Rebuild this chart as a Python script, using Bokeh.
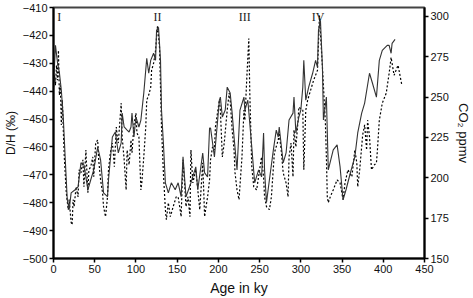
from bokeh.plotting import figure
from bokeh.models import Range1d, LinearAxis, FixedTicker
from bokeh.embed import file_html
from bokeh.resources import INLINE
from bokeh.core.properties import value

# CO2 record (solid line, right axis, ppmv)
co2_age = [0.0, 2.4, 4.8, 7.1, 9.5, 11.9, 14.3, 16.7, 19.0, 21.4, 26.2, 29.8, 33.3, 36.9, 41.7, 45.2, 48.8,
           53.6, 57.1, 60.7, 65.5, 66.7, 71.4, 75.0, 78.6, 82.1, 83.3, 85.7, 89.3, 91.7, 94.0, 95.2, 97.6,
           100.0, 103.6, 106.0, 109.5, 113.1, 115.5, 117.9, 121.4, 123.8, 125.0, 127.4, 129.8, 131.0, 133.3,
           135.7, 139.3, 142.9, 147.6, 151.2, 154.8, 157.1, 160.7, 166.7, 172.6, 175.0, 181.0, 183.3, 186.9,
           189.3, 190.5, 195.2, 201.2, 202.4, 204.8, 208.3, 210.7, 214.3, 216.7, 219.0, 222.6, 225.0, 226.2,
           231.0, 232.1, 235.7, 240.5, 244.0, 248.8, 252.4, 254.8, 256.0, 258.3, 261.9, 266.7, 270.2, 272.6,
           273.8, 278.6, 282.1, 285.7, 290.5, 291.7, 294.0, 297.6, 300.0, 302.4, 303.6, 306.0, 309.5, 314.3,
           317.9, 320.2, 321.4, 323.8, 326.2, 327.4, 331.0, 333.3, 339.3, 344.0, 347.6, 351.2, 354.8, 359.5,
           365.5, 369.0, 373.8, 377.4, 383.3, 386.9, 391.7, 395.2, 398.8, 404.8, 407.1, 409.5, 410.7, 414.3]
co2_ppmv = [257.4, 282.1, 271.6, 265.4, 254.3, 237.0, 211.1, 186.4, 180.2, 190.7, 192.6, 194.4, 209.3, 208.0,
            192.6, 198.8, 204.9, 219.1, 211.1, 190.7, 188.3, 198.8, 225.3, 228.4, 215.4, 221.6, 240.1, 231.5,
            229.6, 228.4, 231.5, 240.1, 225.3, 237.7, 231.5, 235.8, 252.5, 274.1, 264.8, 272.8, 277.2, 272.8,
            291.4, 293.2, 272.8, 242.0, 221.6, 196.9, 190.7, 196.9, 192.6, 196.9, 188.3, 213.0, 188.3, 196.9,
            206.8, 192.6, 215.4, 203.1, 200.6, 230.9, 230.9, 213.0, 248.1, 250.0, 237.7, 242.0, 256.2, 252.5,
            240.1, 225.3, 204.9, 229.6, 242.0, 250.0, 242.0, 248.1, 219.1, 196.9, 204.9, 200.6, 227.8, 204.9,
            184.6, 198.8, 217.3, 229.6, 225.3, 231.5, 209.3, 215.4, 235.8, 240.1, 250.0, 227.8, 237.7, 242.0,
            256.2, 272.8, 248.1, 256.2, 264.8, 272.8, 268.5, 291.4, 297.5, 268.5, 235.8, 250.0, 204.9, 217.3,
            220.4, 206.8, 186.4, 192.6, 201.9, 213.0, 227.8, 240.1, 246.3, 264.8, 258.6, 250.0, 272.8, 279.0,
            282.1, 282.1, 277.2, 283.3, 285.8]

# Deuterium record (dotted line, left axis, per mil)
dh_age = [0.0, 1.2, 2.4, 3.6, 4.8, 6.0, 7.1, 8.3, 9.5, 10.7, 11.9, 13.1, 15.5, 17.9, 19.0, 21.4, 22.6, 23.8,
          25.0, 27.4, 29.8, 31.0, 33.3, 35.7, 36.9, 39.3, 41.7, 42.9, 45.2, 47.6, 48.8, 51.2, 53.6, 54.8, 57.1,
          59.5, 60.7, 63.1, 65.5, 66.7, 69.0, 71.4, 72.6, 73.8, 76.2, 77.4, 78.6, 82.1, 83.3, 85.7, 88.1, 89.3,
          91.7, 94.0, 95.2, 97.6, 100.0, 101.2, 103.6, 106.0, 107.1, 109.5, 111.9, 113.1, 115.5, 117.9, 119.0,
          121.4, 123.8, 125.0, 126.2, 128.6, 131.0, 133.3, 135.7, 136.9, 139.3, 141.7, 145.2, 148.8, 151.2,
          153.6, 154.8, 157.1, 159.5, 160.7, 163.1, 165.5, 166.7, 169.0, 172.6, 177.4, 181.0, 183.3, 184.5,
          186.9, 189.3, 190.5, 192.9, 195.2, 196.4, 201.2, 202.4, 204.8, 207.1, 210.7, 213.1, 214.3, 216.7,
          219.0, 220.2, 222.6, 225.0, 228.6, 231.0, 232.1, 234.5, 236.9, 238.1, 240.5, 242.9, 246.4, 250.0,
          252.4, 254.8, 256.0, 258.3, 261.9, 264.3, 267.9, 272.6, 273.8, 276.2, 278.6, 282.1, 284.5, 285.7,
          288.1, 290.5, 291.7, 294.0, 296.4, 297.6, 302.4, 303.6, 306.0, 308.3, 311.9, 315.5, 320.2, 322.6,
          323.8, 326.2, 329.8, 331.0, 332.1, 333.3, 335.7, 339.3, 344.0, 347.6, 351.2, 353.6, 357.1, 361.9,
          365.5, 367.9, 369.0, 371.4, 375.0, 377.4, 379.8, 381.0, 383.3, 385.7, 389.3, 391.7, 392.9, 395.2,
          398.8, 403.6, 407.1, 409.5, 410.7, 413.1, 415.5, 417.9, 421.4, 422.6]
dh_value = [-438.6, -434.3, -437.9, -430.7, -436.1, -425.4, -441.4, -437.9, -452.1, -443.2, -453.9, -463.6,
            -476.4, -482.5, -478.9, -487.1, -487.9, -478.9, -481.4, -474.3, -477.9, -468.2, -469.3, -464.6,
            -474.3, -461.1, -476.4, -468.2, -467.1, -463.6, -470.7, -458.6, -457.5, -464.6, -471.8, -476.4,
            -481.4, -485.0, -477.9, -468.2, -462.1, -458.6, -462.1, -467.1, -452.9, -456.4, -458.6, -444.3,
            -456.4, -464.6, -475.4, -461.1, -466.4, -457.5, -462.1, -452.1, -447.9, -455.0, -456.4, -475.4,
            -472.9, -463.6, -452.9, -443.2, -441.4, -438.6, -432.5, -430.0, -425.4, -420.7, -416.4, -424.3,
            -452.9, -469.3, -482.5, -486.1, -480.0, -485.0, -481.4, -477.9, -477.9, -482.5, -485.0, -464.6,
            -475.4, -481.4, -477.9, -485.0, -461.1, -472.9, -468.2, -482.5, -465.7, -485.0, -482.5, -477.9,
            -471.8, -464.6, -460.0, -461.1, -452.9, -443.2, -446.8, -463.6, -458.6, -446.8, -440.7, -443.2,
            -453.9, -461.1, -469.3, -475.4, -478.9, -463.6, -446.8, -450.4, -435.0, -421.1, -440.7, -467.1,
            -474.3, -475.4, -468.2, -463.6, -470.7, -477.9, -481.4, -482.5, -477.9, -462.1, -457.5, -455.0,
            -461.1, -469.3, -472.9, -477.9, -463.6, -458.6, -470.7, -453.9, -460.0, -451.4, -445.7, -446.8,
            -468.2, -446.8, -443.2, -439.6, -436.1, -432.5, -412.9, -419.3, -431.4, -451.4, -463.6, -477.9,
            -480.0, -477.9, -475.4, -471.8, -472.9, -478.9, -472.9, -468.2, -470.7, -461.1, -465.7, -474.3,
            -468.2, -455.7, -452.1, -461.1, -450.4, -456.4, -468.2, -466.4, -465.7, -461.1, -450.4, -444.3,
            -440.7, -433.6, -427.9, -430.0, -434.3, -432.5, -430.7, -436.1, -437.9]

# Glacial termination labels
term_labels = ["I", "II", "III", "IV"]
term_age = [7.1, 126.0, 232.0, 321.0]

x_ticks = [0, 50, 100, 150, 200, 250, 300, 350, 400, 450]
dh_ticks = [-500, -490, -480, -470, -460, -450, -440, -430, -420, -410]
co2_ticks = [150, 175, 200, 225, 250, 275, 300]

FONT = "Liberation Sans"

p = figure(width=473, height=298, output_backend="svg", toolbar_location=None,
           x_range=Range1d(0, 450), y_range=Range1d(-500, -410),
           min_border_left=48, min_border_right=47, min_border_top=7, min_border_bottom=39,
           x_axis_location=None, y_axis_location=None)
p.extra_y_ranges = {"co2": Range1d(150, 305.55)}
p.xgrid.visible = False
p.ygrid.visible = False
p.background_fill_color = "white"
p.border_fill_color = "white"
p.outline_line_color = "#444444"
p.outline_line_width = 2

def style_axis(ax):
    ax.axis_line_color = "black"
    ax.axis_line_width = 2
    ax.major_tick_line_color = "black"
    ax.major_tick_line_width = 1.5
    ax.major_tick_in = 0
    ax.major_tick_out = 4
    ax.minor_tick_line_color = None
    ax.major_label_text_font = FONT
    ax.major_label_text_font_size = "11px"
    ax.major_label_text_color = "#111111"
    ax.axis_label_text_font = FONT
    ax.axis_label_text_font_style = "normal"
    ax.axis_label_text_color = "#111111"
    ax.major_label_standoff = 2

xaxis = LinearAxis(ticker=FixedTicker(ticks=x_ticks), axis_label="Age in ky")
style_axis(xaxis)
xaxis.axis_label_text_font_size = "14px"
xaxis.axis_label_standoff = 4
p.add_layout(xaxis, "below")

yaxis = LinearAxis(ticker=FixedTicker(ticks=dh_ticks), axis_label="D/H (‰)")
style_axis(yaxis)
yaxis.axis_label_text_font_size = "12px"
yaxis.axis_label_standoff = 2
p.add_layout(yaxis, "left")

raxis = LinearAxis(y_range_name="co2", ticker=FixedTicker(ticks=co2_ticks), axis_label="CO₂ ppmv")
style_axis(raxis)
raxis.axis_label_text_font_size = "13px"
raxis.axis_label_standoff = 4
p.add_layout(raxis, "right")

p.line(dh_age, dh_value, line_color="black", line_width=1.2, line_dash="2 2")
p.line(co2_age, co2_ppmv, y_range_name="co2", line_color="#333333", line_width=1.1)

p.text(x=term_age, y=[-413.3] * 4, text=term_labels, text_font=value("Liberation Serif"),
       text_font_size="12px", text_align="center", text_baseline="middle", text_color="#222222")

open("out.html", "w").write(file_html(p, INLINE))
